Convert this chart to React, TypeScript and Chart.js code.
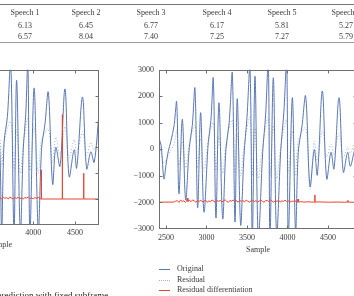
import React, { useEffect, useRef } from 'react';
import { Chart, registerables } from 'chart.js';

Chart.register(...registerables);

// ---- table ----
const SPEECH_HEADERS = ['Speech 1', 'Speech 2', 'Speech 3', 'Speech 4', 'Speech 5', 'Speech 6'];
const ROW_A = ['6.13', '6.45', '6.77', '6.17', '5.81', '5.27'];
const ROW_B = ['6.57', '8.04', '7.40', '7.25', '7.27', '5.79'];

// ---- axes ----
const X_TICKS = [2500, 3000, 3500, 4000, 4500];
const Y_TICKS = [-3000, -2000, -1000, 0, 1000, 2000, 3000];
const LEGEND_LABELS = ['Original', 'Residual', 'Residual differentiation'];

// ---- right panel ----
const R_ORIG_X = [2414, 2440, 2475, 2500, 2528, 2560, 2600, 2632, 2660, 2702, 2743, 2788, 2825, 2858, 2891, 2928, 2969, 3022, 3055, 3084, 3117, 3154, 3200, 3240, 3280, 3318, 3352, 3380, 3422, 3463, 3500, 3537, 3566, 3599, 3640, 3694, 3730, 3763, 3784, 3825, 3866, 3916, 3955, 3990, 4010, 4060, 4100, 4133, 4180, 4224, 4278, 4331, 4368, 4430, 4484, 4537, 4574, 4636, 4689, 4743, 4775, 4821, 4858];
const R_ORIG_Y = [412, 150, -1110, -600, -75, 300, 900, 1786, -1674, 1136, -1900, 75, 900, 2296, -2198, 1386, -2360, 260, 1100, 2670, -2584, 1760, -2610, 10, 1000, 2910, -2734, 1910, -2860, -225, 1200, 3100, -3300, 2760, -3300, -110, 1300, 3300, -3300, 2700, -3200, -75, 1400, 3300, -3300, 1950, -3100, -110, 900, 2010, -1390, -10, -960, 2200, -1110, -110, -735, 1950, -860, -110, -640, -110, 300];

const R_RES_X = [2414, 2475, 2528, 2600, 2632, 2660, 2702, 2743, 2788, 2858, 2891, 2928, 2969, 3022, 3084, 3117, 3154, 3200, 3240, 3318, 3352, 3380, 3422, 3463, 3537, 3566, 3599, 3640, 3694, 3763, 3784, 3825, 3866, 3916, 3990, 4010, 4060, 4100, 4133, 4224, 4278, 4331, 4368, 4430, 4484, 4537, 4574, 4636, 4689, 4743, 4775, 4821, 4858];
const R_RES_Y = [300, -500, -200, 200, 700, -600, 300, -700, 200, 900, -700, 400, -800, 300, 1000, -800, 500, -900, 200, 1100, -900, 600, -1000, 100, 1200, -1000, 800, -1100, 200, 1200, -1000, 900, -1100, 100, 1100, -900, 700, -1000, 300, 800, -1500, 300, -400, 700, -300, 200, -200, 600, -300, 100, -200, 200, 100];

const R_DIFF_X = [2414, 2600, 2620, 2640, 2660, 2680, 2700, 2720, 2740, 2755, 2763, 2771, 2790, 2810, 2830, 2850, 2870, 2890, 2910, 2930, 2950, 2970, 2990, 3010, 3030, 3050, 3070, 3090, 3110, 3130, 3150, 3170, 3190, 3210, 3230, 3250, 3270, 3290, 3310, 3330, 3350, 3370, 3390, 3410, 3430, 3450, 3470, 3490, 3510, 3530, 3550, 3570, 3590, 3610, 3630, 3650, 3670, 3690, 3710, 3730, 3750, 3770, 3790, 3810, 3830, 3850, 3870, 3890, 3910, 3930, 3950, 3970, 3990, 4010, 4030, 4050, 4070, 4090, 4110, 4129, 4131, 4133, 4160, 4200, 4250, 4300, 4336, 4338, 4340, 4380, 4450, 4520, 4600, 4700, 4743, 4745, 4747, 4800, 4858];
const R_DIFF_Y = [-1990, -1985, -1950, -1930, -2000, -1910, -1960, -1940, -1990, -1950, -1840, -1960, -1920, -1970, -1900, -1950, -1990, -1930, -1960, -1910, -1980, -1950, -1920, -1990, -1940, -1970, -1910, -1950, -1990, -1930, -1960, -1920, -1980, -1940, -1900, -1960, -1990, -1930, -1950, -1910, -1970, -1940, -1990, -1920, -1960, -1930, -1980, -1910, -1950, -1990, -1940, -1920, -1970, -1930, -1980, -1950, -1910, -1960, -1990, -1940, -1920, -1970, -1900, -1950, -1990, -1930, -1960, -1920, -1980, -1940, -1960, -1910, -1970, -1940, -1990, -1950, -1960, -1930, -1975, -1985, -1870, -1985, -1970, -1985, -1975, -1985, -1985, -1720, -1985, -1980, -1985, -1990, -1985, -1990, -1985, -1920, -1985, -1990, -1985];

// ---- left panel (partly out of frame) ----
const L_ORIG_X = [3560, 3601, 3621, 3650, 3690, 3729, 3769, 3800, 3845, 3880, 3910, 3935, 3960, 4010, 4060, 4100, 4140, 4180, 4232, 4270, 4320, 4380, 4430, 4490, 4520, 4590, 4640, 4690, 4730, 4790];
const L_ORIG_Y = [2000, -300, -3300, 200, 1200, 3300, -3300, 2600, -3300, -60, 1300, 3300, -3300, 2300, -3200, -30, 900, 2130, -1420, 0, -730, 2260, -1130, -90, -800, 1950, -830, -170, -580, 1400];

const L_RES_X = [3560, 3601, 3621, 3650, 3729, 3769, 3800, 3845, 3880, 3935, 3960, 4010, 4060, 4100, 4180, 4232, 4270, 4320, 4380, 4430, 4490, 4520, 4590, 4640, 4690, 4730, 4790];
const L_RES_Y = [600, 300, -700, 200, 1000, -900, 700, -1000, 100, 1100, -900, 800, -1000, 300, 700, -600, 400, -300, 800, -400, 300, -200, 600, -300, 200, -100, 500];

const L_DIFF_X = [3560, 3600, 3620, 3640, 3660, 3680, 3700, 3720, 3740, 3760, 3780, 3800, 3820, 3840, 3860, 3880, 3900, 3920, 3940, 3960, 3980, 4000, 4020, 4040, 4060, 4080, 4094, 4096, 4098, 4150, 4250, 4346, 4348, 4350, 4450, 4602, 4604, 4606, 4700, 4790];
const L_DIFF_Y = [-1990, -1950, -1990, -1930, -1970, -1940, -1990, -1920, -1960, -1990, -1940, -1970, -1930, -1980, -1950, -1990, -1940, -1960, -1920, -1980, -1950, -1990, -1940, -1970, -1930, -1985, -1990, -870, -1995, -1995, -1995, -1995, 1270, -1995, -1995, -1995, -1000, -1995, -1995, -1995];

const FONT_FAMILY = '"Liberation Serif", "Times New Roman", serif';
const C_ORIG = '#5b77b5';
const C_RES = '#9fb6c4';
const C_DIFF = '#e8432f';
const C_TEXT = '#3a3a3a';
const C_FRAME = '#707070';

const pts = (xs: number[], ys: number[]) => xs.map((x, i) => ({ x, y: ys[i] }));
const fmt = (v: number) => (v < 0 ? '\u2212' + Math.abs(v) : String(v));

const framePlugin = {
  id: 'frame',
  afterDatasetsDraw(chart: any) {
    const { ctx, chartArea: a, scales } = chart;
    ctx.save();
    ctx.strokeStyle = C_FRAME;
    ctx.lineWidth = 1;
    const l = Math.round(a.left) + 0.5;
    const r = Math.round(a.right) - 0.5;
    const t = Math.round(a.top) + 0.5;
    const b = Math.round(a.bottom) - 0.5;
    ctx.strokeRect(l, t, r - l, b - t);
    ctx.beginPath();
    scales.x.ticks.forEach((tk: any) => {
      const px = Math.round(scales.x.getPixelForValue(tk.value)) + 0.5;
      ctx.moveTo(px, t); ctx.lineTo(px, t + 3);
      ctx.moveTo(px, b); ctx.lineTo(px, b - 3);
    });
    scales.y.ticks.forEach((tk: any) => {
      const py = Math.round(scales.y.getPixelForValue(tk.value)) + 0.5;
      if (py <= t + 1 || py >= b - 1) return;
      ctx.moveTo(l, py); ctx.lineTo(l + 3, py);
      ctx.moveTo(r, py); ctx.lineTo(r - 3, py);
    });
    ctx.stroke();
    ctx.restore();
  },
};

type PanelProps = {
  left: number; top: number; width: number; height: number;
  yAxisWidth: number; xMin: number; xMax: number;
  orig: { x: number; y: number }[]; res: { x: number; y: number }[]; diff: { x: number; y: number }[];
  titlePad: number; xTickPad: number;
};

function Panel(p: PanelProps) {
  const ref = useRef<HTMLCanvasElement>(null);
  useEffect(() => {
    if (!ref.current) return;
    const font = { family: FONT_FAMILY, size: 8 };
    const chart = new Chart(ref.current, {
      type: 'line',
      data: {
        datasets: [
          { label: LEGEND_LABELS[2], data: p.diff, borderColor: C_DIFF, borderWidth: 1, borderJoinStyle: 'bevel', tension: 0, pointRadius: 0, order: 0 },
          { label: LEGEND_LABELS[0], data: p.orig, borderColor: C_ORIG, borderWidth: 1, borderJoinStyle: 'round', tension: 0.35, pointRadius: 0, order: 1 },
          { label: LEGEND_LABELS[1], data: p.res, borderColor: C_RES, borderWidth: 1, borderDash: [1, 2], tension: 0.35, pointRadius: 0, order: 2 },
        ],
      },
      options: {
        animation: false,
        responsive: false,
        maintainAspectRatio: false,
        devicePixelRatio: 1,
        layout: { padding: { top: 9, right: 1, left: 0, bottom: 0 } },
        plugins: { legend: { display: false }, tooltip: { enabled: false } },
        elements: { point: { radius: 0 } },
        scales: {
          x: {
            type: 'linear',
            min: p.xMin,
            max: p.xMax,
            afterBuildTicks: (s: any) => { s.ticks = X_TICKS.map((v) => ({ value: v })); },
            afterFit: (s: any) => { s.height = 30; },
            grid: { display: false, drawTicks: false, tickLength: 0 },
            border: { display: false },
            ticks: { font, color: C_TEXT, padding: p.xTickPad, maxRotation: 0, autoSkip: false, callback: (v: any) => String(v) },
            title: { display: true, text: 'Sample', font, color: C_TEXT, padding: { top: 0, bottom: p.titlePad } },
          },
          y: {
            type: 'linear',
            min: -3000,
            max: 3000,
            afterBuildTicks: (s: any) => { s.ticks = Y_TICKS.map((v) => ({ value: v })); },
            afterFit: (s: any) => { s.width = p.yAxisWidth; },
            grid: { display: false, drawTicks: false, tickLength: 0 },
            border: { display: false },
            ticks: { font, color: C_TEXT, padding: 5, callback: (v: any) => fmt(Number(v)) },
          },
        },
      } as any,
      plugins: [framePlugin],
    });
    return () => chart.destroy();
  }, []);
  return (
    <canvas
      ref={ref}
      width={p.width}
      height={p.height}
      style={{ position: 'absolute', left: p.left, top: p.top, width: p.width, height: p.height }}
    />
  );
}

const COL_CENTERS = [25, 86, 151, 217, 282, 346];

export default function App() {
  const textBase: React.CSSProperties = { position: 'absolute', fontSize: 8, lineHeight: '10px', whiteSpace: 'nowrap', color: C_TEXT };
  return (
    <div style={{ position: 'fixed', left: 0, top: 0, width: 354, height: 296, overflow: 'hidden', background: '#fff', fontFamily: FONT_FAMILY, WebkitFontSmoothing: 'antialiased', willChange: 'transform' } as React.CSSProperties}>
      {/* table rules */}
      <div style={{ position: 'absolute', left: 0, top: 4, width: 354, height: 1, background: '#777' }} />
      <div style={{ position: 'absolute', left: 0, top: 42, width: 354, height: 1, background: '#9a9a9a' }} />
      {SPEECH_HEADERS.map((h, i) => (
        <div key={'h' + i} style={{ ...textBase, left: COL_CENTERS[i], top: 8, transform: 'translateX(-50%)' }}>{h}</div>
      ))}
      {ROW_A.map((v, i) => (
        <div key={'a' + i} style={{ ...textBase, left: COL_CENTERS[i], top: 21, transform: 'translateX(-50%)' }}>{v}</div>
      ))}
      {ROW_B.map((v, i) => (
        <div key={'b' + i} style={{ ...textBase, left: COL_CENTERS[i], top: 32, transform: 'translateX(-50%)' }}>{v}</div>
      ))}

      <Panel left={-140} top={60} width={240} height={195} yAxisWidth={41} xMin={2414} xMax={4788}
        orig={pts(L_ORIG_X, L_ORIG_Y)} res={pts(L_RES_X, L_RES_Y)} diff={pts(L_DIFF_X, L_DIFF_Y)} titlePad={5} xTickPad={3} />
      <Panel left={120} top={60} width={238} height={199} yAxisWidth={39} xMin={2414} xMax={4858}
        orig={pts(R_ORIG_X, R_ORIG_Y)} res={pts(R_RES_X, R_RES_Y)} diff={pts(R_DIFF_X, R_DIFF_Y)} titlePad={4} xTickPad={4} />

      {/* legend */}
      {LEGEND_LABELS.map((lab, i) => {
        const cy = [269, 279.5, 290][i];
        const style = i === 1 ? `1px dotted ${C_RES}` : `1px solid ${i === 0 ? C_ORIG : C_DIFF}`;
        return (
          <React.Fragment key={'l' + i}>
            <div style={{ position: 'absolute', left: 159, top: Math.round(cy), width: 11, height: 0, borderTop: style }} />
            <div style={{ ...textBase, left: 177, top: Math.round(cy) - 5 }}>{lab}</div>
          </React.Fragment>
        );
      })}

      {/* caption fragment */}
      <div style={{ position: 'absolute', left: -3, top: 291, fontSize: 9, lineHeight: '9px', whiteSpace: 'nowrap', color: '#222' }}>
        prediction with fixed subframe
      </div>
    </div>
  );
}
